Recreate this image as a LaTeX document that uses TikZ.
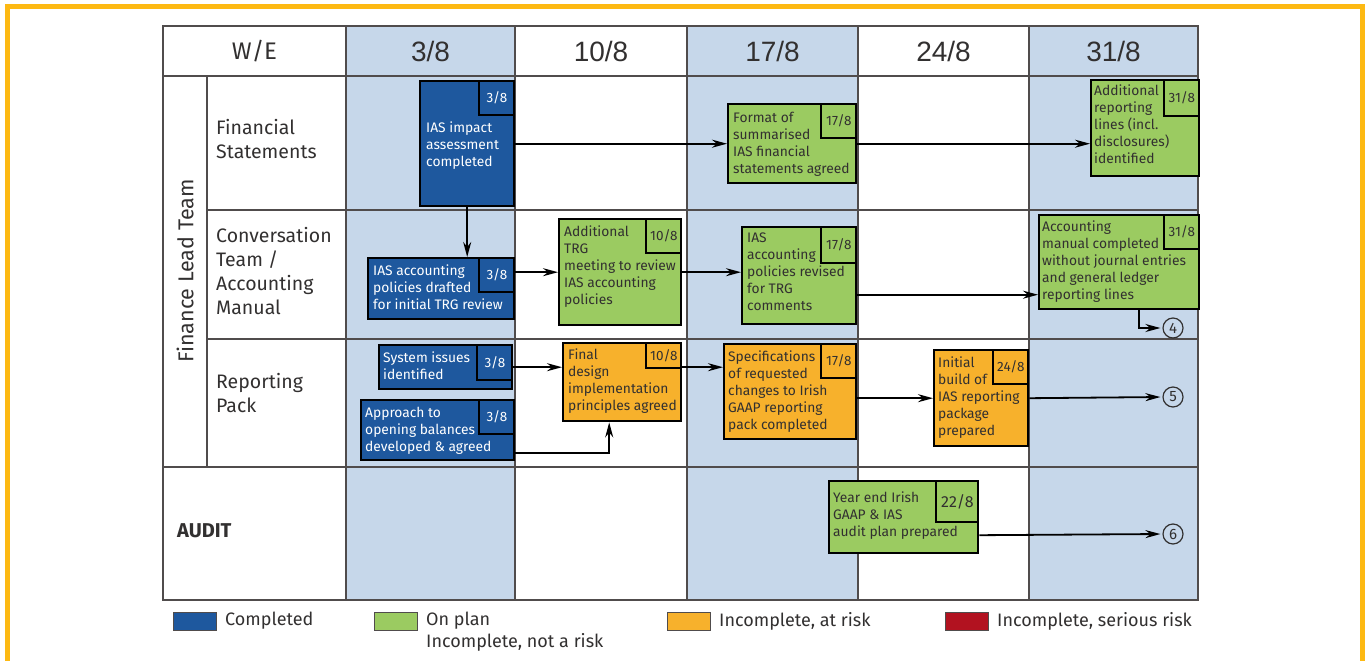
\documentclass[tikz,border=0pt]{standalone}
\usepackage{fontspec}
\setmainfont{Fira Sans}
\newfontfamily\datefont{Liberation Sans}
\usetikzlibrary{arrows.meta}
\definecolor{frameorange}{RGB}{253,185,19}
\definecolor{colblue}{RGB}{198,215,234}
\definecolor{gridgrey}{RGB}{80,76,76}
\definecolor{doneblue}{RGB}{30,88,158}
\definecolor{plangreen}{RGB}{155,203,97}
\definecolor{riskorange}{RGB}{247,177,44}
\definecolor{seriousred}{RGB}{178,18,32}
\definecolor{inkgrey}{RGB}{50,48,48}

\begin{document}
\begin{tikzpicture}[x=1pt,y=-1pt,
    grid/.style={draw=gridgrey,line width=1.5pt},
    task/.style={draw=black,line width=2.4pt,anchor=north west,inner sep=0pt},
    tag/.style={draw=black,line width=2pt,anchor=north east,inner sep=0pt,minimum width=35pt,minimum height=34pt,font=\fontsize{13.5}{14}\selectfont},
    txt/.style={anchor=north west,align=left,inner sep=0pt,font=\fontsize{13.8}{17}\selectfont},
    lbl/.style={anchor=west,align=left,inner sep=0pt,text=inkgrey,font=\fontsize{19.5}{24}\selectfont},
    head/.style={text=inkgrey,font=\datefont\fontsize{28}{28}\selectfont},
    arr/.style={-{Stealth[length=15pt,width=8pt]},line width=1.8pt},
    num/.style={circle,draw=inkgrey,line width=1.2pt,minimum size=20pt,inner sep=0pt,text=inkgrey,font=\fontsize{15}{15}\selectfont},
    key/.style={draw=gridgrey,line width=0.6pt,minimum width=43pt,minimum height=18pt,inner sep=0pt,anchor=north west},
    keytext/.style={anchor=north west,align=left,inner sep=0pt,text=inkgrey,font=\fontsize{18}{22}\selectfont}]
    \useasboundingbox (0,0) rectangle (1368,661);
    \draw[frameorange,line width=5pt] (7.5,661) -- (7.5,6.5) -- (1362.5,6.5) -- (1362.5,661);

    \foreach \x in {346,687,1029}{
        \fill[colblue] (\x,26) rectangle (\x+170,600);
    }
    \draw[grid] (163,26) rectangle (1198,600);
    \draw[grid] (163,76) -- (1198,76);
    \draw[grid] (163,467) -- (1198,467);
    \foreach \y in {210,339}{
        \draw[grid] (207,\y) -- (1198,\y);
    }
    \draw[grid] (207,76) -- (207,467);
    \foreach \x in {346,515,687,858,1029}{
        \draw[grid] (\x,26) -- (\x,600);
    }

    \node[text=inkgrey,font=\fontsize{24}{24}\selectfont] (we) at (254.5,51) {W/E};
    \node[head] (h1) at (430.5,51) {3/8};
    \node[head] (h2) at (601,51) {10/8};
    \node[head] (h3) at (772.5,51) {17/8};
    \node[head] (h4) at (943.5,51) {24/8};
    \node[head] (h5) at (1113.5,51) {31/8};

    \node[rotate=90,text=inkgrey,font=\fontsize{21.5}{21.5}\selectfont] (flt) at (185,271) {Finance Lead Team};
    \node[lbl] (fs) at (216,139.5) {Financial\\Statements};
    \node[lbl] (ct) at (216,271.5) {Conversation\\Team /\\Accounting\\Manual};
    \node[lbl] (rp) at (216,393.5) {Reporting\\Pack};
    \node[lbl,font=\fontsize{20}{24}\selectfont\bfseries] (au) at (177,531) {AUDIT};

    \node[task,fill=doneblue,minimum width=94pt,minimum height=125pt] (imp) at (419,80) {};
    \node[tag,fill=doneblue,text=white] (impd) at (imp.north east) {3/8};
    \node[txt,text=white] (impt) at ([xshift=7pt,yshift=-42pt]imp.north west) {IAS impact\\assessment\\completed};

    \node[task,fill=plangreen,minimum width=128pt,minimum height=79pt] (fmt) at (727,103) {};
    \node[tag,fill=plangreen,text=inkgrey] (fmtd) at (fmt.north east) {17/8};
    \node[txt,text=inkgrey] (fmtt) at ([xshift=6pt,yshift=-8.5pt]fmt.north west) {Format of\\summarised\\IAS financial\\statements agreed};

    \node[task,fill=plangreen,minimum width=108pt,minimum height=96pt] (addrep) at (1090,79) {};
    \node[tag,fill=plangreen,text=inkgrey,minimum height=36pt] (addrepd) at (addrep.north east) {31/8};
    \node[txt,text=inkgrey] (addrept) at ([xshift=4pt,yshift=-5.5pt]addrep.north west) {Additional\\reporting\\lines (incl.\\disclosures)\\identified};

    \node[task,fill=doneblue,minimum width=146pt,minimum height=61pt] (draft) at (367,257) {};
    \node[tag,fill=doneblue,text=white] (draftd) at (draft.north east) {3/8};
    \node[txt,text=white] (draftt) at ([xshift=6pt,yshift=-7.5pt]draft.north west) {IAS accounting\\policies drafted\\for initial TRG review};

    \node[task,fill=plangreen,minimum width=122pt,minimum height=106pt] (trg) at (558,218) {};
    \node[tag,fill=plangreen,text=inkgrey] (trgd) at (trg.north east) {10/8};
    \node[txt,text=inkgrey] (trgt) at ([xshift=6pt,yshift=-7.5pt]trg.north west) {Additional\\TRG\\meeting to review\\IAS accounting\\policies};

    \node[task,fill=plangreen,minimum width=114pt,minimum height=97pt] (rev) at (741,226) {};
    \node[tag,fill=plangreen,text=inkgrey,minimum height=36pt] (revd) at (rev.north east) {17/8};
    \node[txt,text=inkgrey] (revt) at ([xshift=6pt,yshift=-6.5pt]rev.north west) {IAS\\accounting\\policies revised\\for TRG\\comments};

    \node[task,fill=plangreen,minimum width=160pt,minimum height=94pt] (acc) at (1038,214) {};
    \node[tag,fill=plangreen,text=inkgrey] (accd) at (acc.north east) {31/8};
    \node[txt,text=inkgrey] (acct) at ([xshift=4pt,yshift=-6.5pt]acc.north west) {Accounting\\manual completed\\without journal entries\\and general  ledger\\reporting lines};

    \node[task,fill=doneblue,minimum width=133pt,minimum height=44pt] (sys) at (378,344) {};
    \node[tag,fill=doneblue,text=white,minimum height=35pt] (sysd) at (sys.north east) {3/8};
    \node[txt,text=white] (syst) at ([xshift=5pt,yshift=-7.5pt]sys.north west) {System issues\\identified};

    \node[task,fill=doneblue,minimum width=153pt,minimum height=60pt] (appr) at (360,399) {};
    \node[tag,fill=doneblue,text=white] (apprd) at (appr.north east) {3/8};
    \node[txt,text=white] (apprt) at ([xshift=5pt,yshift=-7.5pt]appr.north west) {Approach to\\opening balances\\developed \& agreed};

    \node[task,fill=riskorange,minimum width=118pt,minimum height=78pt] (fin) at (562,342) {};
    \node[tag,fill=riskorange,text=inkgrey,minimum height=25pt] (find) at (fin.north east) {10/8};
    \node[txt,text=inkgrey] (fint) at ([xshift=6pt,yshift=-6.5pt]fin.north west) {Final\\design\\implementation\\principles agreed};

    \node[task,fill=riskorange,minimum width=132pt,minimum height=95pt] (spec) at (723,343) {};
    \node[tag,fill=riskorange,text=inkgrey] (specd) at (spec.north east) {17/8};
    \node[txt,text=inkgrey] (spect) at ([xshift=5pt,yshift=-7.5pt]spec.north west) {Specifications\\of requested\\changes to Irish\\GAAP reporting\\pack completed};

    \node[task,fill=riskorange,minimum width=94pt,minimum height=96pt] (init) at (933,349) {};
    \node[tag,fill=riskorange,text=inkgrey] (initd) at (init.north east) {24/8};
    \node[txt,text=inkgrey] (initt) at ([xshift=5pt,yshift=-7.5pt]init.north west) {Initial\\build of\\IAS reporting\\package\\prepared};

    \node[task,fill=plangreen,minimum width=149pt,minimum height=72pt] (yend) at (828,480) {};
    \node[tag,fill=plangreen,text=inkgrey,minimum width=42pt,minimum height=41pt,font=\fontsize{16}{17}\selectfont] (yendd) at (yend.north east) {22/8};
    \node[txt,text=inkgrey] (yendt) at ([xshift=5pt,yshift=-11.5pt]yend.north west) {Year end Irish\\GAAP \& IAS\\audit plan prepared};

    \node[num] (c4) at (1173,328) {4};
    \node[num] (c5) at (1173,397) {5};
    \node[num] (c6) at (1173,534) {6};

    \draw[arr] (imp.east) -- (fmt.west);
    \draw[arr] (fmt.east) -- (fmt.east -| addrep.west);
    \draw[arr] (imp.south) -- (imp.south |- draft.north);
    \draw[arr] (trg.west -| draft.east) -- (trg.west);
    \draw[arr] (trg.east) -- (trg.east -| rev.west);
    \draw[arr] ([yshift=-19pt]rev.east) -- ([yshift=-19pt]rev.east -| acc.west);
    \draw[arr,shorten >=2pt] ([xshift=20pt]acc.south) |- (c4.west);
    \draw[arr] (sys.east) -- (sys.east -| fin.west);
    \draw[arr] ([yshift=-23pt]appr.east) -| ([xshift=-13pt]fin.south);
    \draw[arr] ([yshift=15pt]fin.east) -- ([yshift=15pt]fin.east -| spec.west);
    \draw[arr] (init.west -| spec.east) -- (init.west);
    \draw[arr,shorten >=2pt] (init.east) -- (c5.west);
    \draw[arr,shorten >=2pt] ([yshift=-18pt]yend.east) -- (c6.west);

    \node[key,fill=doneblue] (k1) at (173,612) {};
    \node[keytext] (k1t) at (225,612) {Completed};
    \node[key,fill=plangreen] (k2) at (374,612) {};
    \node[keytext] (k2t) at (426,612) {On plan\\Incomplete, not a risk};
    \node[key,fill=riskorange] (k3) at (667,612) {};
    \node[keytext] (k3t) at (719,612) {Incomplete, at risk};
    \node[key,fill=seriousred] (k4) at (945,612) {};
    \node[keytext] (k4t) at (997,612) {Incomplete, serious risk};
\end{tikzpicture}
\end{document}
